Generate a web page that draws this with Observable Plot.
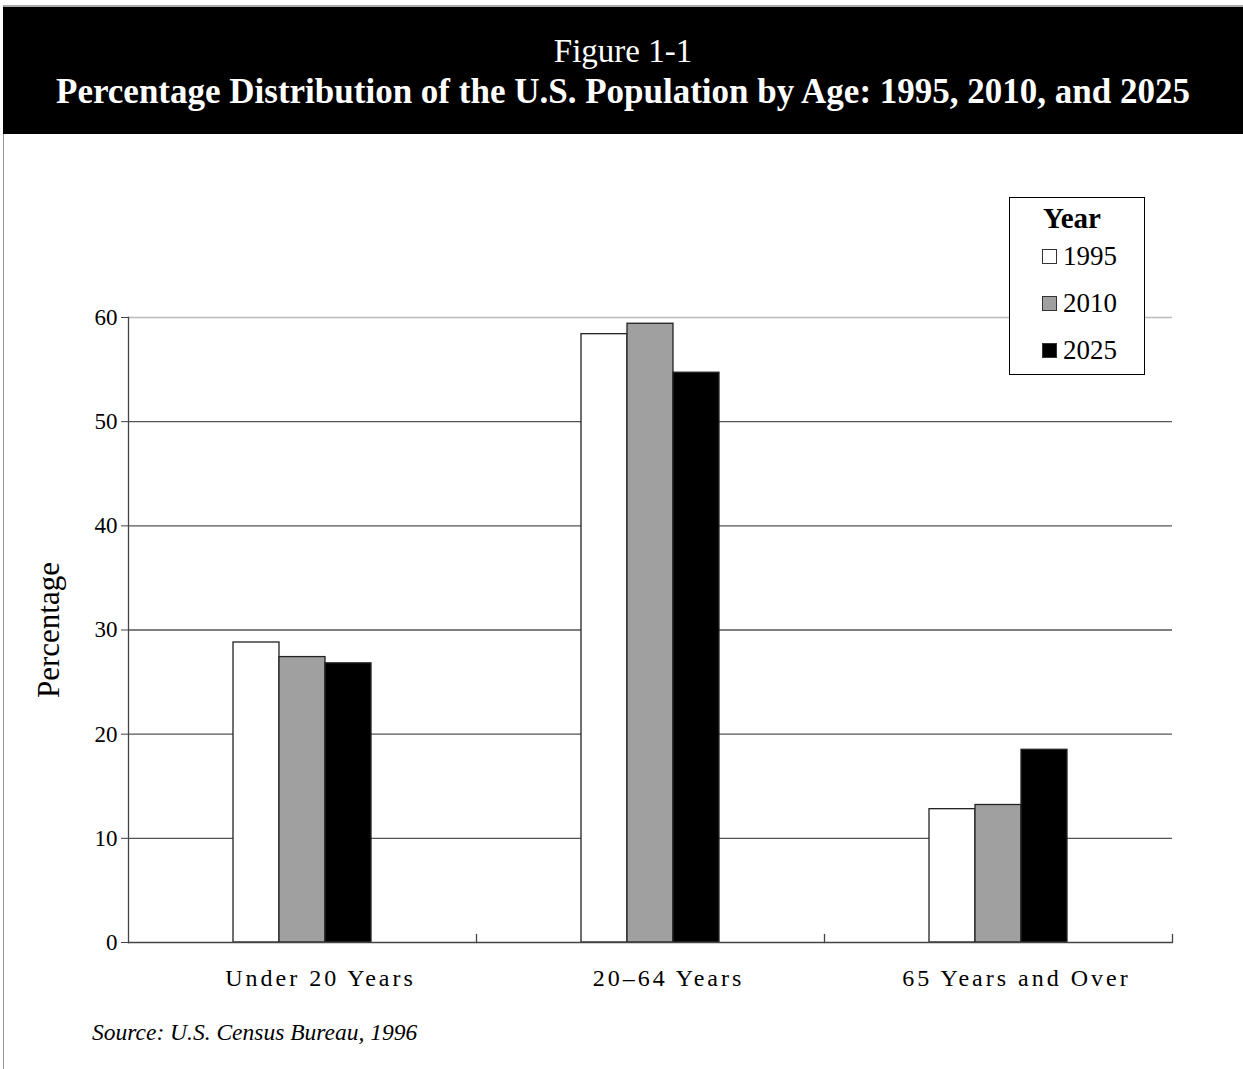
<!DOCTYPE html>
<html>
<head>
<meta charset="utf-8">
<script src="https://cdn.jsdelivr.net/npm/d3@7"></script>
<script src="https://cdn.jsdelivr.net/npm/@observablehq/plot@0.6"></script>
<style>
  html, body { margin: 0; padding: 0; background: #fff; }
  #page { position: relative; width: 1243px; height: 1069px; overflow: hidden; font-family: "Liberation Serif", "Times New Roman", serif; }
  #topline { position: absolute; left: 3px; top: 5px; right: 0; height: 2px; background: #aaa; }
  #leftline { position: absolute; left: 3px; top: 5px; bottom: 0; width: 1px; background: #999; }
  #header { position: absolute; left: 3px; right: 0; top: 7px; height: 127px; background: #000; color: #fff; text-align: center; }
  #fig { position: absolute; left: 0; right: 0; top: 25px; font-size: 33px; line-height: 38px; }
  #title { position: absolute; left: 0; right: 0; top: 65px; font-size: 35px; line-height: 40px; font-weight: bold; }
  #chart { position: absolute; left: 0; top: 140px; }
  #legend { position: absolute; left: 1009px; top: 197px; width: 134px; height: 176px; border: 1px solid #000; background: #fff; }
  #legend .hd { position: absolute; left: 33px; top: 3px; font-size: 29px; line-height: 34px; font-weight: bold; }
  #legend .it { position: absolute; left: 32px; font-size: 27px; height: 26px; line-height: 26px; }
  #legend .sw { display: inline-block; width: 13px; height: 13px; border: 1px solid #333; margin-right: 6px; vertical-align: 1px; }
  #source { position: absolute; left: 92px; top: 1019px; font-size: 23.5px; font-style: italic; }
  g[aria-label="fx-axis tick label"] text { letter-spacing: 3px; }
</style>
</head>
<body>
<div id="page">
  <div id="topline"></div>
  <div id="leftline"></div>
  <div id="header">
    <div id="fig">Figure 1-1</div>
    <div id="title">Percentage Distribution of the U.S. Population by Age: 1995, 2010, and 2025</div>
  </div>
  <div id="chart"></div>
  <div id="legend"></div>
  <div id="source">Source: U.S. Census Bureau, 1996</div>
</div>
<script>
const categories = ["Under 20 Years", "20–64 Years", "65 Years and Over"];
const years = ["1995", "2010", "2025"];
const values1995 = [28.8, 58.4, 12.8];
const values2010 = [27.4, 59.4, 13.2];
const values2025 = [26.8, 54.7, 18.5];
const yTicks = [0, 10, 20, 30, 40, 50, 60];
const gridTicks = [10, 20, 30, 40, 50];
const topTick = [60];
const yearFill = ["#ffffff", "#a0a0a0", "#000000"];

const seriesByYear = [values1995, values2010, values2025];
const table = [];
categories.forEach((c, i) => {
  years.forEach((y, j) => table.push({category: c, year: y, value: seriesByYear[j][i]}));
});

const chart = Plot.plot({
  width: 1243,
  height: 870,
  marginTop: 177,
  marginBottom: 68,
  marginLeft: 127,
  marginRight: 70,
  style: {fontFamily: "Liberation Serif, Times New Roman, serif", background: "transparent", color: "#000"},
  fx: {domain: categories, padding: 0, label: null},
  x: {domain: years, paddingInner: 0, paddingOuter: 2.26, axis: null},
  y: {domain: [0, 60], axis: null},
  color: {domain: years, range: yearFill},
  marks: [
    Plot.ruleY(gridTicks, {stroke: "#555", strokeWidth: 1.3}),
    Plot.ruleY(topTick, {stroke: "#bbb", strokeWidth: 1.3}),
    Plot.barY(table, {fx: "category", x: "year", y: "value", fill: "year", stroke: "#222", strokeWidth: 1.3}),
    Plot.ruleY([0], {stroke: "#444", strokeWidth: 1.3}),
    Plot.frame({anchor: "left", stroke: "#444", strokeWidth: 1.3, facetAnchor: "left"}),
    Plot.frame({anchor: "right", stroke: "#444", strokeWidth: 1.3, insetTop: 617}),
    Plot.axisY(yTicks, {anchor: "left", tickSize: 7, tickPadding: 4, fontSize: 23, stroke: "#444", label: "Percentage", labelAnchor: "center", labelOffset: 92, labelArrow: "none"}),
    Plot.axisFx({anchor: "bottom", tickSize: 0, tickPadding: 26, fontSize: 24, dx: 18, label: null})
  ]
});
document.getElementById("chart").appendChild(chart);

const svg = d3.select(chart);
svg.selectAll('g[aria-label="y-axis label"] text').style("font-size", "31px");

const legend = document.getElementById("legend");
legend.innerHTML = '<div class="hd">Year</div>';
const legendTops = [45, 92, 139];
years.forEach((y, j) => {
  const d = document.createElement("div");
  d.className = "it";
  d.style.top = legendTops[j] + "px";
  d.innerHTML = '<span class="sw" style="background:' + yearFill[j] + '"></span>' + y;
  legend.appendChild(d);
});
</script>
</body>
</html>
